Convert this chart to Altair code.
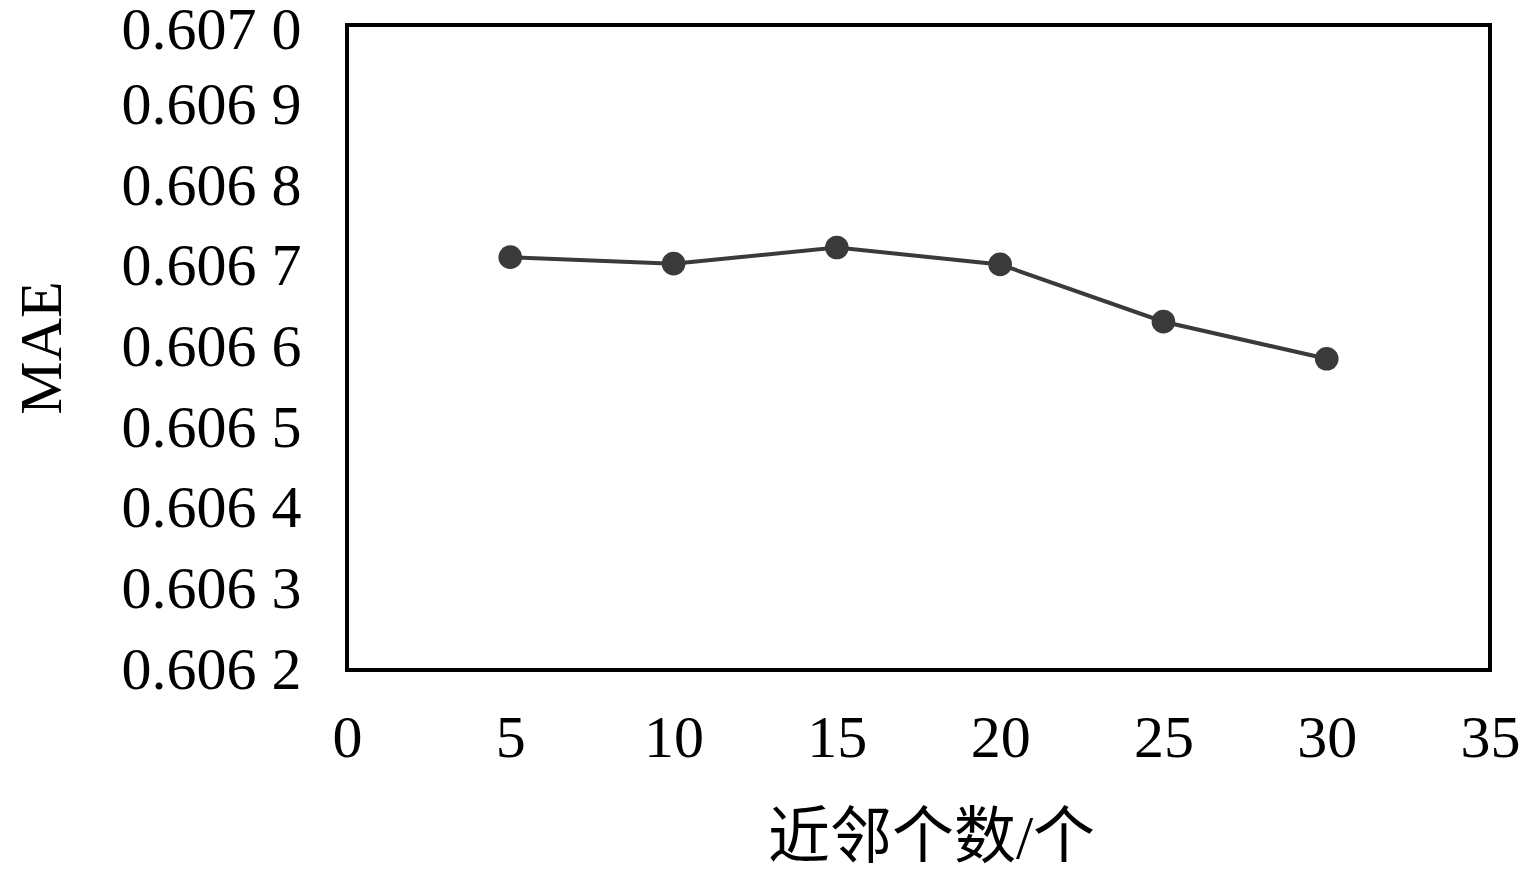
import altair as alt
import pandas as pd

neighbors = [5, 10, 15, 20, 25, 30]
mae = [0.606712, 0.606704, 0.606724, 0.606703, 0.606632, 0.606586]

df = pd.DataFrame({"k": neighbors, "mae": mae})

font = "Liberation Serif"
x_enc = alt.X(
    "k:Q",
    scale=alt.Scale(domain=[0, 35], nice=False),
    axis=alt.Axis(
        title="近邻个数/个",
        values=[0, 5, 10, 15, 20, 25, 30, 35],
        grid=False, ticks=False, domain=False,
        labelFont=font, labelFontSize=60, labelColor="black",
        labelPadding=39, labelFlush=False, labelLimit=400,
        titleFont="Liberation Serif, Noto Sans CJK SC", titleFontSize=62,
        titleFontWeight="normal", titleColor="black", titlePadding=40,
        titleX=584, titleAlign="center",
    ),
)
y_enc = alt.Y(
    "mae:Q",
    scale=alt.Scale(domain=[0.6062, 0.6070], nice=False, zero=False),
    axis=alt.Axis(
        title="MAE",
        values=[0.6062, 0.6063, 0.6064, 0.6065, 0.6066, 0.6067, 0.6068, 0.6069, 0.6070],
        labelExpr="substring(format(datum.value,'.4f'),0,5) + ' ' + substring(format(datum.value,'.4f'),5)",
        grid=False, ticks=False, domain=False,
        labelFont=font, labelFontSize=60, labelColor="black",
        labelPadding=46, labelFlush=False, labelLimit=400,
        labelOffset={"condition": {"test": "datum.value >= 0.60699", "value": 5}, "value": 0},
        titleFont=font, titleFontSize=60, titleFontWeight="normal",
        titleColor="black", titlePadding=74,
    ),
)

line = alt.Chart(df).mark_line(color="#3a3a3a", strokeWidth=4).encode(x=x_enc, y=y_enc)
pts = alt.Chart(df).mark_circle(color="#3a3a3a", size=560, opacity=1).encode(x="k:Q", y="mae:Q")

chart = (
    alt.LayerChart(
        layer=[line, pts],
        view=alt.ViewBackground(stroke="black", strokeWidth=4, fill="white"),
    )
    .properties(
        width=1143, height=645,
        autosize=alt.AutoSizeParams(type="none"),
        padding={"left": 339, "top": 17, "right": 30, "bottom": 205},
    )
    .configure(background="white")
)

chart.save("out.html", embed_options={"renderer": "svg", "actions": False})
